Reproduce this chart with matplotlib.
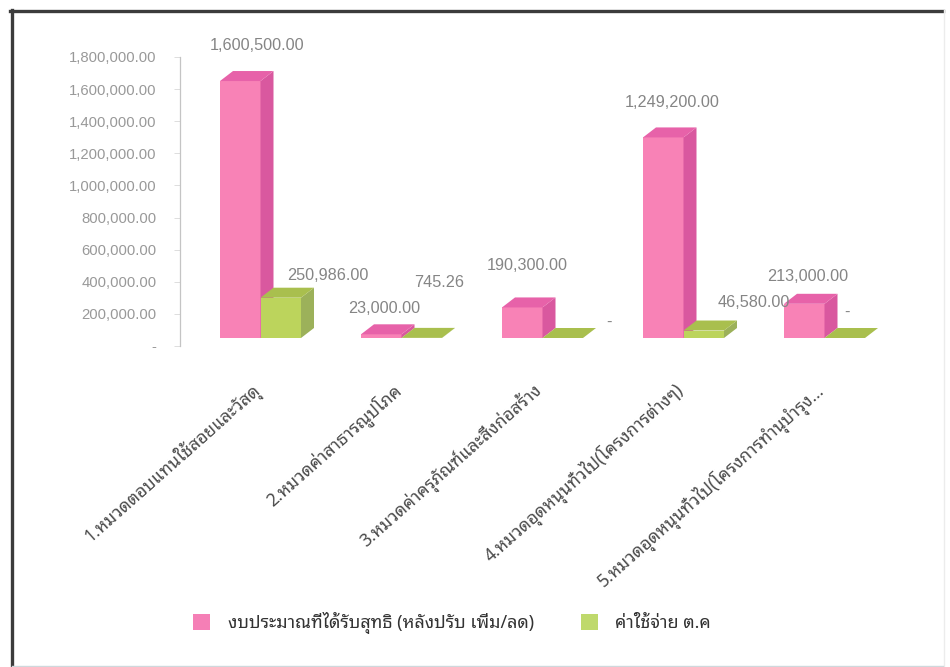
import matplotlib
matplotlib.use("Agg")
import matplotlib.pyplot as plt
from matplotlib.lines import Line2D
from matplotlib.patches import Patch, Polygon

categories = [
    "1.หมวดตอบแทนใช้สอยและวัสดุ",
    "2.หมวดค่าสาธารณูปโภค",
    "3.หมวดค่าครุภัณฑ์และสิ่งก่อสร้าง",
    "4.หมวดอุดหนุนทั่วไป(โครงการต่างๆ)",
    "5.หมวดอุดหนุนทั่วไป(โครงการทำนุบำรุง...",
]
budget = [1600500.00, 23000.00, 190300.00, 1249200.00, 213000.00]
spent = [250986.00, 745.26, 0, 46580.00, 0]
y_ticks = [0, 200000, 400000, 600000, 800000, 1000000, 1200000, 1400000, 1600000, 1800000]
legend_labels = ["งบประมาณที่ได้รับสุทธิ (หลังปรับ เพิ่ม/ลด)", "ค่าใช้จ่าย ต.ค"]

# label offsets from the top of each front face, in pixels
budget_offsets = [(17, 36), (3, 26), (5, 42), (9, 35), (3, 27)]
spent_offsets = [(47, 22), (17, 55), (46, 16), (50, 28), (2, 26)]

W, H = 950, 667
NUM_FONT = ["Liberation Sans", "DejaVu Sans"]
THAI_FONT = ["Noto Sans Thai Looped", "Noto Sans Thai", "DejaVu Sans"]

PINK = ("#f882b6", "#d9589f", "#e762a9")
GREEN = ("#bcd45c", "#9cb15a", "#a9bf4e")

fig = plt.figure(figsize=(W / 100, H / 100), dpi=100, facecolor="white")
ax = fig.add_axes([180 / W, 1 - 346 / H, 705 / W, 289 / H])
ax.set_xlim(-0.5, 4.5)
ax.set_ylim(0, 1800000)

px_x = 5 / 705
px_y = 1800000 / 289
bar_w = 40.5 * px_x
depth_x = 13 * px_x
depth_y = 10 * px_y
base = 8 * px_y


def draw_bar(left, value, colors, zorder):
    front, side, top = colors
    right = left + bar_w
    high = base + value
    ax.bar(left, value, bar_w, bottom=base, align="edge", color=front, linewidth=0, zorder=zorder)
    ax.add_patch(Polygon([(right, base), (right + depth_x, base + depth_y),
                          (right + depth_x, high + depth_y), (right, high)],
                         facecolor=side, linewidth=0, zorder=zorder))
    ax.add_patch(Polygon([(left, high), (left + depth_x, high + depth_y),
                          (right + depth_x, high + depth_y), (right, high)],
                         facecolor=top, linewidth=0, zorder=zorder))


def value_text(value):
    return f"{value:,.2f}" if value else "-"


for i in range(len(categories)):
    left = i - 0.5 + 40 * px_x
    draw_bar(left, budget[i], PINK, 2 + i)
    draw_bar(left + bar_w, spent[i], GREEN, 2 + i)
    ax.annotate(value_text(budget[i]), (left + bar_w / 2, base + budget[i]),
                xytext=budget_offsets[i], textcoords="offset pixels", ha="center", va="center",
                fontsize=11.7, color="#858585", family=NUM_FONT, zorder=20)
    ax.annotate(value_text(spent[i]), (left + bar_w * 1.5, base + spent[i]),
                xytext=spent_offsets[i], textcoords="offset pixels", ha="center", va="center",
                fontsize=11.7, color="#858585", family=NUM_FONT, zorder=20)

for name in ["top", "right", "bottom"]:
    ax.spines[name].set_visible(False)
ax.spines["left"].set_color("#c4c4c4")
ax.spines["left"].set_linewidth(0.9)

ax.set_yticks(y_ticks)
ax.set_yticklabels([f"{t:,.2f}" if t else "-" for t in y_ticks],
                   family=NUM_FONT, fontsize=10.7, color="#999999")
ax.tick_params(axis="y", length=4, width=0.6, color="#d8d8d8", pad=13)

ax.set_xticks(range(len(categories)))
ax.set_xticklabels(categories, rotation=41.5, ha="right", va="top", rotation_mode="anchor",
                   family=THAI_FONT, fontsize=12.6, color="#4a4a4a")
ax.tick_params(axis="x", length=0, pad=24)

handles = [Patch(facecolor="#f57fb6", linewidth=0), Patch(facecolor="#bfd96c", linewidth=0)]
fig.legend(handles, legend_labels, loc="center", bbox_to_anchor=(452 / W, 1 - 623 / H),
           ncols=2, frameon=False, handlelength=0.95, handleheight=1.0, handletextpad=1.0,
           columnspacing=2.6, prop={"family": THAI_FONT, "size": 12.9}, labelcolor="#333333")

# scanned page frame
frame = [
    ((11.5, 11.5), (10, 667), "#3c3c3c", 2.4),
    ((10, 943), (10.5, 10.5), "#3c3c3c", 2.4),
    ((943.5, 943.5), (10, 667), "#ececec", 1.0),
    ((12, 943), (666, 666), "#cfd8dc", 1.0),
]
for xs, ys, color, lw in frame:
    fig.add_artist(Line2D([x / W for x in xs], [1 - y / H for y in ys],
                          color=color, linewidth=lw, transform=fig.transFigure))

fig.savefig("out.png", dpi=100)
